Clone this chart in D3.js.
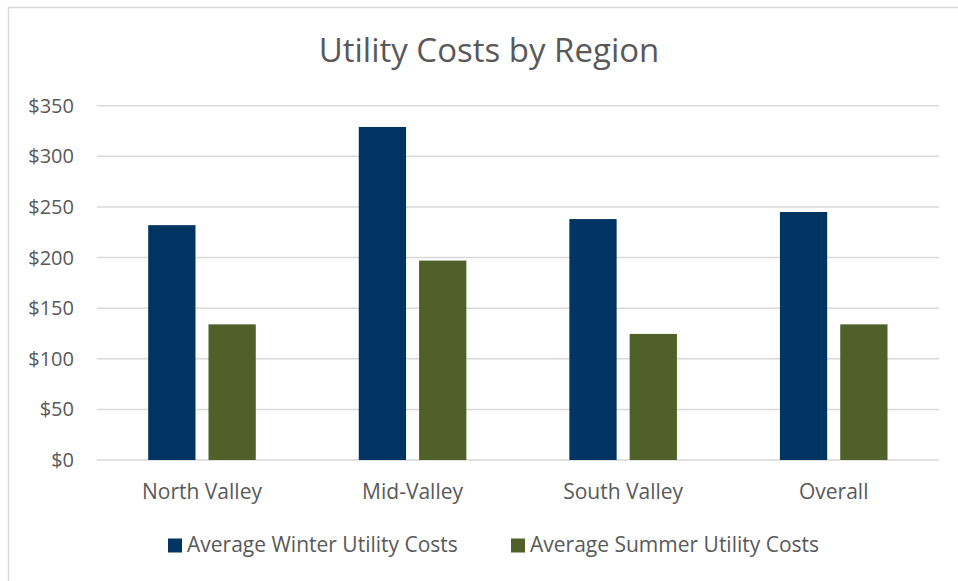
<!DOCTYPE html>
<html>
<head>
<meta charset="utf-8">
<script src="https://cdn.jsdelivr.net/npm/d3@7"></script>
<style>
  body { margin: 0; background: #fff; }
  text { font-family: "Open Sans", sans-serif; fill: #595959; }
</style>
</head>
<body>
<div id="chart"></div>
<script>
let regions = ['North Valley', 'Mid-Valley', 'South Valley', 'Overall'];
let series = ['Average Winter Utility Costs', 'Average Summer Utility Costs'];
let winter = [232, 329, 238, 245];
let summer = [134, 197, 124.5, 134];
let yTicks = [0, 50, 100, 150, 200, 250, 300, 350];
let colors = ['#003462', '#4f6128'];

let width = 958, height = 581;
let plot = {left: 96.7, right: 939, top: 105.7, bottom: 460};

let svg = d3.select('#chart').append('svg')
	.attr('width', width)
	.attr('height', height);

// chart frame, only top and left edges are inside the picture
svg.append('rect')
	.attr('x', 8.5).attr('y', 7.5)
	.attr('width', 980).attr('height', 600)
	.attr('fill', 'none')
	.attr('stroke', '#d9d9d9')
	.attr('stroke-width', 1.5);

let y = d3.scaleLinear().domain([0, 350]).range([plot.bottom, plot.top]);
let x0 = d3.scaleBand().domain(regions).range([plot.left, plot.right]);
let x1 = d3.scaleBand().domain(series).range([0, x0.bandwidth()])
	.paddingInner(0.216).paddingOuter(0.854);

// gridlines
svg.append('g').selectAll('line')
	.data(yTicks)
	.join('line')
	.attr('x1', plot.left).attr('x2', plot.right)
	.attr('y1', d => y(d)).attr('y2', d => y(d))
	.attr('stroke', '#d9d9d9')
	.attr('stroke-width', 1.5);

// y labels
svg.append('g').selectAll('text')
	.data(yTicks)
	.join('text')
	.attr('x', 74)
	.attr('y', d => y(d))
	.attr('dy', '0.35em')
	.attr('text-anchor', 'end')
	.attr('font-size', 20)
	.text(d => '$' + d);

// bars
let rows = regions.map((r, i) => ({region: r, values: [winter[i], summer[i]]}));
let groups = svg.append('g').selectAll('g')
	.data(rows)
	.join('g')
	.attr('transform', d => `translate(${x0(d.region)},0)`);

groups.selectAll('rect')
	.data(d => d.values.map((v, j) => ({s: series[j], v: v, c: colors[j]})))
	.join('rect')
	.attr('x', d => x1(d.s))
	.attr('width', x1.bandwidth())
	.attr('y', d => y(d.v))
	.attr('height', d => y(0) - y(d.v))
	.attr('fill', d => d.c);

// x labels
svg.append('g').selectAll('text')
	.data(regions)
	.join('text')
	.attr('x', d => x0(d) + x0.bandwidth() / 2)
	.attr('y', 499)
	.attr('text-anchor', 'middle')
	.attr('font-size', 21)
	.text(d => d);

// title
svg.append('text')
	.attr('x', 489)
	.attr('y', 62)
	.attr('text-anchor', 'middle')
	.attr('font-size', 33)
	.text('Utility Costs by Region');

// legend
let legendX = [168, 511];
let legend = svg.append('g').selectAll('g')
	.data(series)
	.join('g')
	.attr('transform', (d, i) => `translate(${legendX[i]},552)`);

legend.append('rect')
	.attr('x', 0).attr('y', -13.5)
	.attr('width', 14).attr('height', 14)
	.attr('fill', (d, i) => colors[i]);

legend.append('text')
	.attr('x', 19)
	.attr('font-size', 21)
	.text(d => d);
</script>
</body>
</html>
